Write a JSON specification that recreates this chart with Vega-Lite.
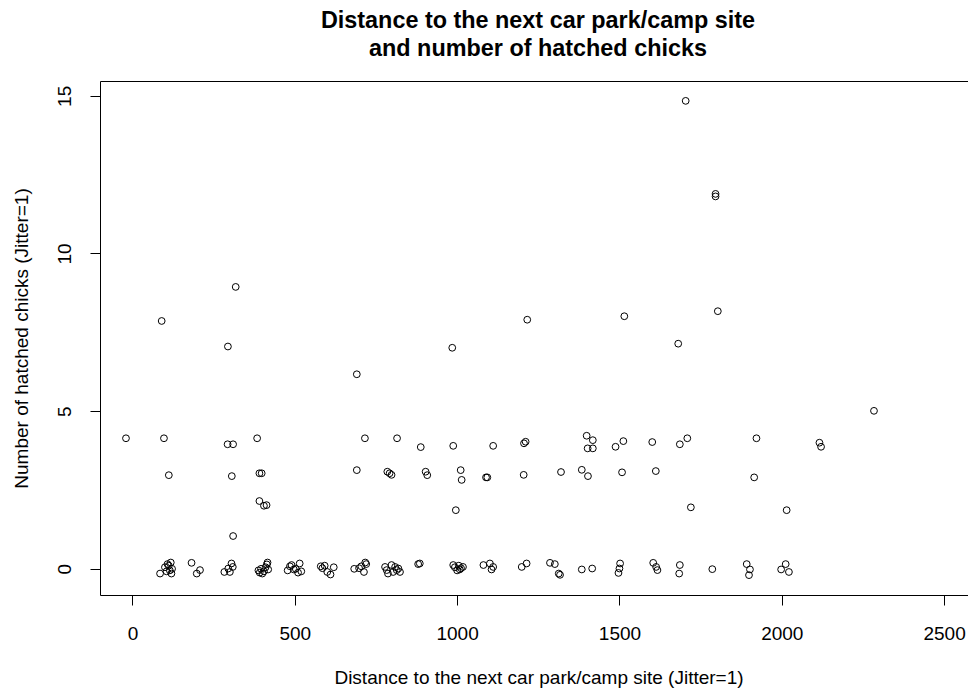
{
  "$schema": "https://vega.github.io/schema/vega-lite/v6.json",
  "width": 868,
  "height": 514,
  "autosize": "none",
  "padding": {"left": 100, "top": 81, "right": 0, "bottom": 93},
  "background": "white",
  "config": {"font": "Liberation Sans", "view": {"stroke": null}},
  "title": {
    "text": ["Distance to the next car park/camp site", "and number of hatched chicks"],
    "fontSize": 23.4,
    "fontWeight": "bold",
    "font": "Liberation Sans",
    "lineHeight": 28,
    "anchor": "middle",
    "offset": 20,
    "dx": 4,
    "color": "black"
  },
  "data": {
    "values": [
      {"dist": -20, "chicks": 4.14}, {"dist": 97, "chicks": 4.14}, {"dist": 112, "chicks": 2.97},
      {"dist": 90, "chicks": 7.86}, {"dist": 294, "chicks": 7.05}, {"dist": 318, "chicks": 8.94},
      {"dist": 293, "chicks": 3.95}, {"dist": 310, "chicks": 3.95}, {"dist": 306, "chicks": 2.94},
      {"dist": 310, "chicks": 1.04}, {"dist": 384, "chicks": 4.14}, {"dist": 391, "chicks": 3.03},
      {"dist": 398, "chicks": 3.03}, {"dist": 391, "chicks": 2.15}, {"dist": 405, "chicks": 2.0},
      {"dist": 413, "chicks": 2.02}, {"dist": 691, "chicks": 6.17}, {"dist": 716, "chicks": 4.14},
      {"dist": 691, "chicks": 3.13}, {"dist": 785, "chicks": 3.08}, {"dist": 792, "chicks": 3.03},
      {"dist": 798, "chicks": 2.98}, {"dist": 815, "chicks": 4.14}, {"dist": 888, "chicks": 3.86},
      {"dist": 903, "chicks": 3.08}, {"dist": 908, "chicks": 2.97}, {"dist": 985, "chicks": 7.01},
      {"dist": 988, "chicks": 3.9}, {"dist": 996, "chicks": 1.86}, {"dist": 1011, "chicks": 3.13},
      {"dist": 1014, "chicks": 2.82}, {"dist": 1089, "chicks": 2.9}, {"dist": 1093, "chicks": 2.9},
      {"dist": 1111, "chicks": 3.9}, {"dist": 1205, "chicks": 2.98}, {"dist": 1206, "chicks": 3.98},
      {"dist": 1211, "chicks": 4.03}, {"dist": 1216, "chicks": 7.9}, {"dist": 1320, "chicks": 3.07},
      {"dist": 1384, "chicks": 3.14}, {"dist": 1399, "chicks": 4.22}, {"dist": 1418, "chicks": 4.08},
      {"dist": 1402, "chicks": 3.82}, {"dist": 1418, "chicks": 3.82}, {"dist": 1403, "chicks": 2.94},
      {"dist": 1488, "chicks": 3.87}, {"dist": 1512, "chicks": 4.05}, {"dist": 1508, "chicks": 3.06},
      {"dist": 1515, "chicks": 8.01}, {"dist": 1601, "chicks": 4.02}, {"dist": 1612, "chicks": 3.1},
      {"dist": 1681, "chicks": 7.14}, {"dist": 1686, "chicks": 3.95}, {"dist": 1704, "chicks": 14.84},
      {"dist": 1709, "chicks": 4.14}, {"dist": 1720, "chicks": 1.95}, {"dist": 1796, "chicks": 11.89},
      {"dist": 1796, "chicks": 11.81}, {"dist": 1803, "chicks": 8.17}, {"dist": 1915, "chicks": 2.9},
      {"dist": 1922, "chicks": 4.14}, {"dist": 2015, "chicks": 1.86}, {"dist": 2116, "chicks": 4.0},
      {"dist": 2121, "chicks": 3.87}, {"dist": 2284, "chicks": 5.01},
      {"dist": 85, "chicks": -0.15}, {"dist": 100, "chicks": 0.05}, {"dist": 105, "chicks": -0.08},
      {"dist": 108, "chicks": 0.15}, {"dist": 112, "chicks": 0.1}, {"dist": 115, "chicks": -0.05},
      {"dist": 118, "chicks": 0.2}, {"dist": 120, "chicks": -0.15}, {"dist": 122, "chicks": 0.0},
      {"dist": 182, "chicks": 0.19}, {"dist": 198, "chicks": -0.15}, {"dist": 208, "chicks": -0.04},
      {"dist": 283, "chicks": -0.1}, {"dist": 295, "chicks": 0.01}, {"dist": 300, "chicks": -0.1},
      {"dist": 305, "chicks": 0.17}, {"dist": 309, "chicks": 0.06},
      {"dist": 388, "chicks": -0.05}, {"dist": 392, "chicks": -0.12}, {"dist": 396, "chicks": 0.0},
      {"dist": 400, "chicks": -0.15}, {"dist": 405, "chicks": -0.08}, {"dist": 410, "chicks": 0.05},
      {"dist": 414, "chicks": 0.14}, {"dist": 416, "chicks": 0.2}, {"dist": 418, "chicks": -0.02},
      {"dist": 478, "chicks": -0.05}, {"dist": 485, "chicks": 0.08}, {"dist": 490, "chicks": 0.12},
      {"dist": 497, "chicks": -0.02}, {"dist": 503, "chicks": 0.0}, {"dist": 510, "chicks": -0.12},
      {"dist": 515, "chicks": 0.17}, {"dist": 520, "chicks": -0.08},
      {"dist": 580, "chicks": 0.08}, {"dist": 585, "chicks": 0.02}, {"dist": 592, "chicks": 0.1},
      {"dist": 600, "chicks": -0.1}, {"dist": 610, "chicks": -0.18}, {"dist": 620, "chicks": 0.05},
      {"dist": 683, "chicks": 0.0}, {"dist": 698, "chicks": 0.02}, {"dist": 705, "chicks": 0.08},
      {"dist": 713, "chicks": -0.1}, {"dist": 717, "chicks": 0.2}, {"dist": 720, "chicks": 0.15},
      {"dist": 778, "chicks": 0.06}, {"dist": 783, "chicks": -0.04}, {"dist": 787, "chicks": -0.15},
      {"dist": 798, "chicks": 0.12}, {"dist": 803, "chicks": -0.1}, {"dist": 809, "chicks": 0.06},
      {"dist": 814, "chicks": -0.04}, {"dist": 819, "chicks": 0.01}, {"dist": 824, "chicks": -0.1},
      {"dist": 880, "chicks": 0.15}, {"dist": 885, "chicks": 0.17},
      {"dist": 988, "chicks": 0.12}, {"dist": 993, "chicks": 0.05}, {"dist": 1000, "chicks": -0.05},
      {"dist": 1005, "chicks": 0.1}, {"dist": 1008, "chicks": -0.02}, {"dist": 1012, "chicks": 0.02},
      {"dist": 1018, "chicks": 0.06},
      {"dist": 1081, "chicks": 0.12}, {"dist": 1101, "chicks": 0.17}, {"dist": 1106, "chicks": -0.02},
      {"dist": 1111, "chicks": 0.06},
      {"dist": 1199, "chicks": 0.06}, {"dist": 1214, "chicks": 0.17},
      {"dist": 1286, "chicks": 0.19}, {"dist": 1301, "chicks": 0.15}, {"dist": 1313, "chicks": -0.15},
      {"dist": 1317, "chicks": -0.19},
      {"dist": 1384, "chicks": -0.02}, {"dist": 1416, "chicks": 0.01},
      {"dist": 1497, "chicks": -0.13}, {"dist": 1500, "chicks": 0.01}, {"dist": 1502, "chicks": 0.17},
      {"dist": 1604, "chicks": 0.19}, {"dist": 1613, "chicks": 0.06}, {"dist": 1617, "chicks": -0.04},
      {"dist": 1684, "chicks": -0.15}, {"dist": 1686, "chicks": 0.12},
      {"dist": 1786, "chicks": -0.01},
      {"dist": 1892, "chicks": 0.15}, {"dist": 1899, "chicks": -0.2}, {"dist": 1902, "chicks": -0.02},
      {"dist": 1998, "chicks": -0.02}, {"dist": 2012, "chicks": 0.15}, {"dist": 2022, "chicks": -0.1}
    ]
  },
  "resolve": {"axis": {"x": "independent", "y": "independent"}},
  "layer": [
    {
      "mark": {"type": "point", "shape": "circle", "filled": false, "size": 46, "strokeWidth": 1, "color": "black", "opacity": 1},
      "encoding": {
        "x": {
          "field": "dist", "type": "quantitative",
          "scale": {"domain": [-100, 2573.6], "nice": false, "zero": false},
          "axis": {
            "orient": "bottom", "values": [0, 500, 1000, 1500, 2000, 2500], "format": "d", "grid": false,
            "domainColor": "black", "domainWidth": 1, "tickColor": "black", "tickSize": 10, "tickWidth": 1,
            "labelFontSize": 19, "labelColor": "black", "labelPadding": 19, "labelFlush": false, "labelFont": "Liberation Sans",
            "title": "Distance to the next car park/camp site (Jitter=1)",
            "titleFontSize": 19, "titleFontWeight": "normal", "titleColor": "black", "titleFont": "Liberation Sans",
            "titleY": 82, "titleX": 438.5, "titleBaseline": "middle", "titleAlign": "center", "titleAnchor": "start"
          }
        },
        "y": {
          "field": "chicks", "type": "quantitative",
          "scale": {"domain": [-0.83, 15.47], "nice": false, "zero": false},
          "axis": {
            "orient": "left", "values": [0, 5, 10, 15], "format": "d", "grid": false,
            "domainColor": "black", "domainWidth": 1, "tickColor": "black", "tickSize": 10, "tickWidth": 1,
            "labelFontSize": 19, "labelColor": "black", "labelPadding": 16, "labelAngle": -90,
            "labelAlign": "center", "labelBaseline": "bottom", "labelFlush": false, "labelFont": "Liberation Sans",
            "title": "Number of hatched chicks (Jitter=1)",
            "titleFontSize": 19, "titleFontWeight": "normal", "titleColor": "black", "titleFont": "Liberation Sans",
            "titleX": -79, "titleBaseline": "middle"
          }
        }
      }
    },
    {
      "mark": {"type": "point", "opacity": 0},
      "encoding": {
        "x": {
          "field": "dist", "type": "quantitative",
          "scale": {"domain": [-100, 2573.6], "nice": false, "zero": false},
          "axis": {"orient": "top", "ticks": false, "labels": false, "title": null, "grid": false, "domainColor": "black", "domainWidth": 1}
        },
        "y": {
          "field": "chicks", "type": "quantitative",
          "scale": {"domain": [-0.83, 15.47], "nice": false, "zero": false},
          "axis": null
        }
      }
    }
  ]
}
